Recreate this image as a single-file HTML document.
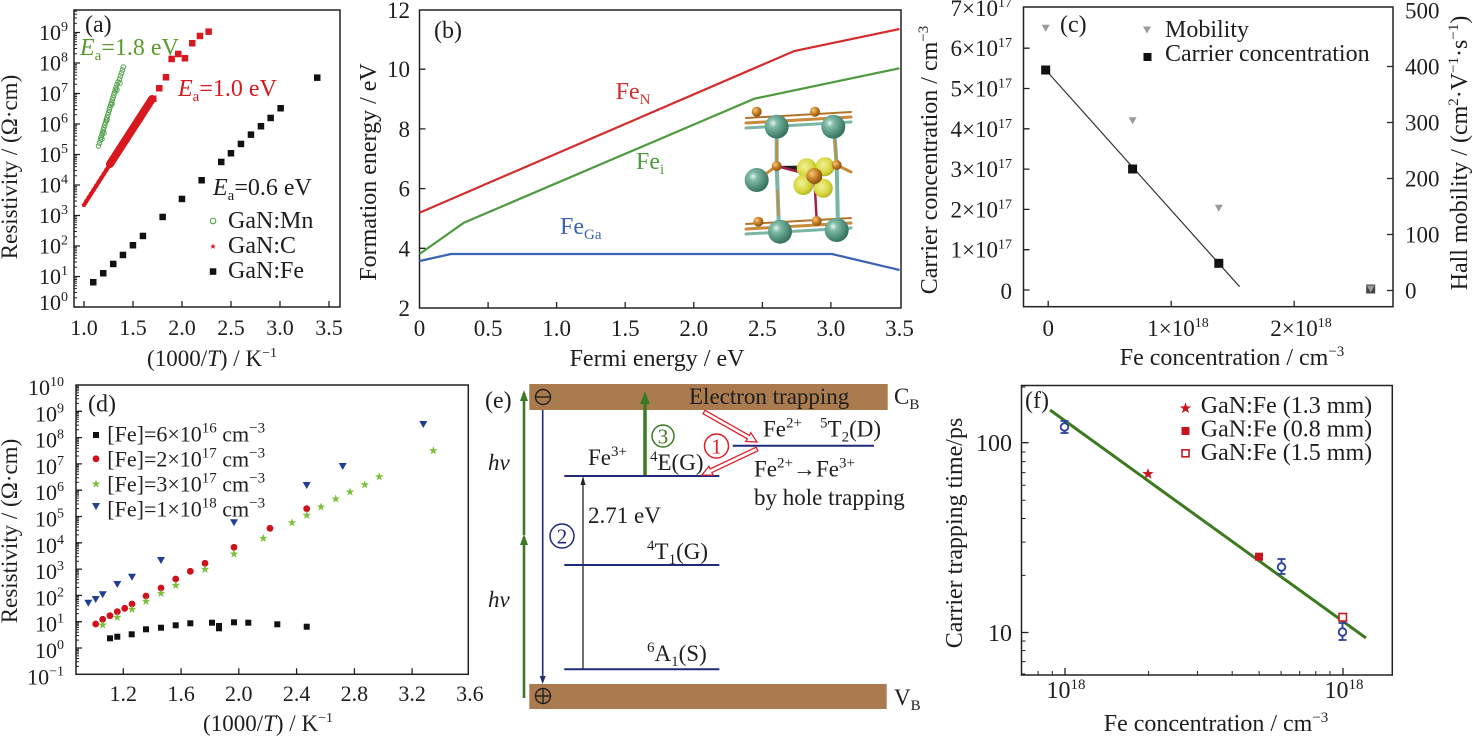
<!DOCTYPE html>
<html><head><meta charset="utf-8"><style>
html,body{margin:0;padding:0;background:#fff}
svg{display:block;font-family:"Liberation Serif",serif}
svg text, svg tspan{font-family:"Liberation Serif",serif}
</style></head><body>
<svg width="1473" height="738" viewBox="0 0 1473 738" style="font-family:'Liberation Serif',serif" fill="#1e1e1e">
<defs>
<path id="s3" d="M0,-3L.71,-.97L2.85,-.93L1.14,.37L1.76,2.43L0,1.2L-1.76,2.43L-1.14,.37L-2.85,-.93L-.71,-.97Z"/>
<path id="s45" d="M0,-4.5L1.06,-1.46L4.28,-1.39L1.71,.56L2.65,3.64L0,1.8L-2.65,3.64L-1.71,.56L-4.28,-1.39L-1.06,-1.46Z"/>
<path id="s6" d="M0,-6L1.41,-1.94L5.71,-1.85L2.28,.74L3.53,4.85L0,2.4L-3.53,4.85L-2.28,.74L-5.71,-1.85L-1.41,-1.94Z"/>
<radialGradient id="gt" cx="0.35" cy="0.35" r="0.7"><stop offset="0" stop-color="#e6f4ef"/><stop offset="0.25" stop-color="#7fbba6"/><stop offset="1" stop-color="#2f6e5a"/></radialGradient>
<radialGradient id="go" cx="0.35" cy="0.35" r="0.7"><stop offset="0" stop-color="#f7c77c"/><stop offset="0.5" stop-color="#c98226"/><stop offset="1" stop-color="#7e4a10"/></radialGradient>
<radialGradient id="gy" cx="0.4" cy="0.4" r="0.7"><stop offset="0" stop-color="#f2f29a"/><stop offset="0.6" stop-color="#d6d63c"/><stop offset="1" stop-color="#a8a820"/></radialGradient>
</defs>

<!-- ================= (a) ================= -->
<rect x="74" y="10" width="266" height="297" fill="none" stroke="#222" stroke-width="1.5"/>
<path stroke="#222" stroke-width="1.3" fill="none" d="M74 307h6M74 276.5h6M74 246h6M74 215.5h6M74 185h6M74 154.5h6M74 124h6M74 93.5h6M74 63h6M74 32.5h6M84 307v-6M133 307v-6M182 307v-6M231 307v-6M280 307v-6M329 307v-6"/>
<path stroke="#222" stroke-width="1" fill="none" d="M74 297.8h3M74 292.5h3M74 288.6h3M74 285.7h3M74 283.3h3M74 281.2h3M74 279.5h3M74 277.9h3M74 267.3h3M74 262h3M74 258.1h3M74 255.2h3M74 252.8h3M74 250.7h3M74 249h3M74 247.4h3M74 236.8h3M74 231.5h3M74 227.6h3M74 224.7h3M74 222.3h3M74 220.2h3M74 218.5h3M74 216.9h3M74 206.3h3M74 201h3M74 197.1h3M74 194.2h3M74 191.8h3M74 189.7h3M74 188h3M74 186.4h3M74 175.8h3M74 170.5h3M74 166.6h3M74 163.7h3M74 161.3h3M74 159.2h3M74 157.5h3M74 155.9h3M74 145.3h3M74 140h3M74 136.1h3M74 133.2h3M74 130.8h3M74 128.7h3M74 127h3M74 125.4h3M74 114.8h3M74 109.5h3M74 105.6h3M74 102.7h3M74 100.3h3M74 98.2h3M74 96.5h3M74 94.9h3M74 84.3h3M74 79h3M74 75.1h3M74 72.2h3M74 69.8h3M74 67.7h3M74 66h3M74 64.4h3M74 53.8h3M74 48.5h3M74 44.6h3M74 41.7h3M74 39.3h3M74 37.2h3M74 35.5h3M74 33.9h3M74 23.3h3M74 18h3M74 14.1h3M74 11.2h3"/>
<g font-size="22" text-anchor="end">
<text x="68" y="40">10<tspan dy="-9" font-size="14">9</tspan></text>
<text x="68" y="70.5">10<tspan dy="-9" font-size="14">8</tspan></text>
<text x="68" y="101">10<tspan dy="-9" font-size="14">7</tspan></text>
<text x="68" y="131.5">10<tspan dy="-9" font-size="14">6</tspan></text>
<text x="68" y="162">10<tspan dy="-9" font-size="14">5</tspan></text>
<text x="68" y="192.5">10<tspan dy="-9" font-size="14">4</tspan></text>
<text x="68" y="223">10<tspan dy="-9" font-size="14">3</tspan></text>
<text x="68" y="253.5">10<tspan dy="-9" font-size="14">2</tspan></text>
<text x="68" y="284">10<tspan dy="-9" font-size="14">1</tspan></text>
<text x="68" y="310">10<tspan dy="-9" font-size="14">0</tspan></text>
</g>
<g font-size="22" text-anchor="middle">
<text x="84" y="335">1.0</text><text x="133" y="335">1.5</text><text x="182" y="335">2.0</text><text x="231" y="335">2.5</text><text x="280" y="335">3.0</text><text x="329" y="335">3.5</text>
</g>
<text x="212" y="366" font-size="23" text-anchor="middle">(1000/<tspan font-style="italic">T</tspan>) / K<tspan dy="-9" font-size="14">−1</tspan></text>
<text transform="translate(17,167) rotate(-90)" font-size="23" text-anchor="middle">Resistivity / (Ω·cm)</text>
<!-- GaN:Fe -->
<g fill="#111">
<rect x="90" y="279" width="6.5" height="6.5"/><rect x="100" y="270" width="6.5" height="6.5"/><rect x="110" y="260.7" width="6.5" height="6.5"/><rect x="119.7" y="251.7" width="6.5" height="6.5"/><rect x="129.7" y="242" width="6.5" height="6.5"/><rect x="139.7" y="232.7" width="6.5" height="6.5"/><rect x="159.4" y="213.7" width="6.5" height="6.5"/><rect x="178.7" y="195.7" width="6.5" height="6.5"/><rect x="198.4" y="177" width="6.5" height="6.5"/><rect x="218" y="158.7" width="6.5" height="6.5"/><rect x="227.7" y="150" width="6.5" height="6.5"/><rect x="237.7" y="140.7" width="6.5" height="6.5"/><rect x="247.7" y="131.4" width="6.5" height="6.5"/><rect x="257.7" y="123" width="6.5" height="6.5"/><rect x="267.4" y="114.7" width="6.5" height="6.5"/><rect x="277.4" y="105" width="6.5" height="6.5"/><rect x="314" y="74.4" width="6.5" height="6.5"/>
</g>
<!-- GaN:C -->
<g fill="#d7191f">
<path d="M84 205L111.5 162" stroke="#d7191f" stroke-width="4" stroke-linecap="round"/>
<path d="M110 164L152 99" stroke="#d7191f" stroke-width="8" stroke-linecap="round"/>
<use href="#s3" x="84" y="205"/><use href="#s3" x="86.5" y="200.7"/><use href="#s3" x="89" y="196.8"/><use href="#s3" x="91.5" y="193"/><use href="#s3" x="94" y="189.1"/><use href="#s3" x="96.5" y="185.2"/><use href="#s3" x="99" y="181.3"/><use href="#s3" x="101.5" y="177.4"/><use href="#s3" x="104" y="173.5"/><use href="#s3" x="106.5" y="169.6"/><use href="#s3" x="109" y="165.7"/><use href="#s3" x="116" y="158"/><use href="#s3" x="122" y="147"/><use href="#s3" x="128" y="140"/><use href="#s3" x="135" y="127"/><use href="#s3" x="141" y="120"/><use href="#s3" x="148" y="106"/><use href="#s3" x="153" y="100"/>
<rect x="150" y="95.5" width="6.5" height="6.5"/>
<rect x="156" y="85" width="6.5" height="6.5"/><rect x="162.7" y="74" width="6.5" height="6.5"/><rect x="168.4" y="55.7" width="6.5" height="6.5"/><rect x="175" y="50.7" width="6.5" height="6.5"/><rect x="181.7" y="55" width="6.5" height="6.5"/><rect x="189" y="40" width="6.5" height="6.5"/><rect x="196.7" y="32.7" width="6.5" height="6.5"/><rect x="205.4" y="28.4" width="6.5" height="6.5"/>
</g>
<!-- GaN:Mn -->
<g fill="none" stroke="#4c9e45" stroke-width="0.9">
<circle cx="98.5" cy="146" r="2.3"/><circle cx="99.5" cy="143" r="2.3"/><circle cx="100.3" cy="140" r="2.3"/><circle cx="101" cy="137.5" r="2.3"/><circle cx="101.8" cy="135" r="2.3"/><circle cx="102.5" cy="132.5" r="2.3"/><circle cx="103.3" cy="130" r="2.3"/><circle cx="104" cy="127.5" r="2.3"/><circle cx="104.8" cy="125" r="2.3"/><circle cx="105.5" cy="122.5" r="2.3"/><circle cx="106.3" cy="120" r="2.3"/><circle cx="107" cy="117.5" r="2.3"/><circle cx="107.8" cy="115" r="2.3"/><circle cx="108.5" cy="112.5" r="2.3"/><circle cx="109.3" cy="110" r="2.3"/><circle cx="110" cy="107.5" r="2.3"/><circle cx="110.8" cy="105" r="2.3"/><circle cx="111.5" cy="102.5" r="2.3"/><circle cx="112.3" cy="100" r="2.3"/><circle cx="113" cy="97.5" r="2.3"/><circle cx="113.8" cy="95" r="2.3"/><circle cx="114.5" cy="92.5" r="2.3"/><circle cx="115.3" cy="90" r="2.3"/><circle cx="116" cy="87.5" r="2.3"/><circle cx="117" cy="84.5" r="2.3"/><circle cx="118" cy="82" r="2.3"/><circle cx="119.5" cy="79" r="2.3"/><circle cx="120.5" cy="76" r="2.3"/><circle cx="121.5" cy="73" r="2.3"/><circle cx="122.5" cy="70" r="2.3"/><circle cx="123.3" cy="67" r="2.3"/><circle cx="120" cy="83" r="2.3"/><circle cx="117" cy="90" r="2.3"/><circle cx="112" cy="104" r="2.3"/><circle cx="107" cy="120" r="2.3"/><circle cx="104" cy="133" r="2.3"/><circle cx="102" cy="139" r="2.3"/>
</g>
<text x="85" y="32" font-size="24">(a)</text>
<text x="80" y="55" font-size="24" fill="#5a9a2a"><tspan font-style="italic">E</tspan><tspan dy="5" font-size="15">a</tspan><tspan dy="-5">=1.8 eV</tspan></text>
<text x="178" y="96" font-size="24" fill="#d7191f"><tspan font-style="italic">E</tspan><tspan dy="5" font-size="15">a</tspan><tspan dy="-5">=1.0 eV</tspan></text>
<text x="213" y="195" font-size="24"><tspan font-style="italic">E</tspan><tspan dy="5" font-size="15">a</tspan><tspan dy="-5">=0.6 eV</tspan></text>
<circle cx="213" cy="221" r="2.8" fill="none" stroke="#4c9e45" stroke-width="1"/>
<use href="#s3" x="213" y="246.5" fill="#d7191f"/>
<rect x="209.8" y="268.3" width="6.5" height="6.5" fill="#111"/>
<g font-size="24"><text x="228" y="228">GaN:Mn</text><text x="228" y="253">GaN:C</text><text x="228" y="278">GaN:Fe</text></g>

<!-- ================= (b) ================= -->
<rect x="419.5" y="10" width="481.5" height="298" fill="none" stroke="#222" stroke-width="1.5"/>
<path stroke="#222" stroke-width="1.3" fill="none" d="M419.5 248.3h6M419.5 188.6h6M419.5 128.9h6M419.5 69.2h6M488.1 308v-6M556.6 308v-6M625.2 308v-6M693.8 308v-6M762.4 308v-6M830.9 308v-6"/>
<g font-size="23" text-anchor="end">
<text x="410" y="316">2</text><text x="410" y="256.3">4</text><text x="410" y="196.6">6</text><text x="410" y="136.9">8</text><text x="410" y="77.2">10</text><text x="410" y="18">12</text>
</g>
<g font-size="23" text-anchor="middle">
<text x="419.5" y="336">0</text><text x="488.1" y="336">0.5</text><text x="556.6" y="336">1.0</text><text x="625.2" y="336">1.5</text><text x="693.8" y="336">2.0</text><text x="762.4" y="336">2.5</text><text x="830.9" y="336">3.0</text><text x="899.5" y="336">3.5</text>
</g>
<text x="657" y="366" font-size="24" text-anchor="middle">Fermi energy / eV</text>
<text transform="translate(376,172) rotate(-90)" font-size="24" text-anchor="middle">Formation energy / eV</text>
<path d="M419.5 212.7L794.3 51L899.5 29" fill="none" stroke="#d42d2d" stroke-width="2.2"/>
<path d="M419.5 254L463.9 222.7L754.4 98.7L899.5 68.3" fill="none" stroke="#4e9a3e" stroke-width="2.2"/>
<path d="M419.5 261L451 254L832 254L899.5 270" fill="none" stroke="#3b63b2" stroke-width="2.2"/>
<text x="434" y="38" font-size="24">(b)</text>
<text x="615.6" y="99" font-size="24" fill="#d42d2d">Fe<tspan dy="5" font-size="15">N</tspan></text>
<text x="636" y="169" font-size="24" fill="#4e9a3e">Fe<tspan dy="5" font-size="15">i</tspan></text>
<text x="560" y="234" font-size="24" fill="#3b63b2">Fe<tspan dy="5" font-size="15">Ga</tspan></text>
<!-- inset crystal -->
<g stroke-linecap="round">
<path d="M746 123L851 117M746 229L851 223" stroke="#c98a3a" stroke-width="3"/>
<path d="M746 128L851 122M746 234L851 228" stroke="#7bb5a5" stroke-width="3"/>
<path d="M746 118L851 112M746 224L851 218" stroke="#b27428" stroke-width="2"/>
<path d="M776.7 128V166M834 128L836.7 165M776.7 166L779 230M836.7 165L838 228" stroke="#7bb5a5" stroke-width="4"/>
<path d="M776.7 140V160M835 140L836 160M777.5 190L778.5 215" stroke="#c98a3a" stroke-width="2"/>
<path d="M757 180L776.7 166M836.7 165L851 172" stroke="#c98a3a" stroke-width="3"/>
<path d="M776.7 166L814.3 176L836.7 165M814.3 176L816.7 221" stroke="#a0204a" stroke-width="2.5"/>
<circle cx="776.7" cy="126.7" r="12" fill="url(#gt)"/>
<circle cx="833.3" cy="126.7" r="12" fill="url(#gt)"/>
<circle cx="756.7" cy="180" r="12" fill="url(#gt)"/>
<circle cx="780" cy="231.7" r="12" fill="url(#gt)"/>
<circle cx="836.7" cy="230" r="12" fill="url(#gt)"/>
<ellipse cx="806.7" cy="168.3" rx="10" ry="10" fill="url(#gy)"/>
<ellipse cx="825" cy="166.7" rx="9.5" ry="9.5" fill="url(#gy)"/>
<ellipse cx="803.3" cy="185" rx="10" ry="10" fill="url(#gy)"/>
<ellipse cx="823.3" cy="188.3" rx="9.5" ry="9.5" fill="url(#gy)"/>
<circle cx="814.3" cy="176" r="8" fill="url(#go)"/>
<circle cx="756.7" cy="111.7" r="5" fill="url(#go)"/>
<circle cx="815" cy="111.7" r="5" fill="url(#go)"/>
<circle cx="776.7" cy="166" r="5" fill="url(#go)"/>
<circle cx="836.7" cy="165" r="5" fill="url(#go)"/>
<circle cx="758.3" cy="221.7" r="5" fill="url(#go)"/>
<circle cx="816.7" cy="221" r="5" fill="url(#go)"/>
</g>

<!-- ================= (c) ================= -->
<rect x="1023.5" y="7" width="369.5" height="299.7" fill="none" stroke="#222" stroke-width="1.5"/>
<path stroke="#222" stroke-width="1.3" fill="none" d="M1023.5 290h6M1023.5 249.7h6M1023.5 209.4h6M1023.5 169.1h6M1023.5 128.8h6M1023.5 88.5h6M1023.5 48.2h6M1393 290.5h-6M1393 234.5h-6M1393 178.5h-6M1393 122.5h-6M1393 66.5h-6M1048.2 306.7v-6M1171.2 306.7v-6M1294.2 306.7v-6"/>
<g font-size="23" text-anchor="end">
<text x="1012" y="16">7×10<tspan dy="-9" font-size="14">17</tspan></text>
<text x="1012" y="56.2">6×10<tspan dy="-9" font-size="14">17</tspan></text>
<text x="1012" y="96.5">5×10<tspan dy="-9" font-size="14">17</tspan></text>
<text x="1012" y="136.8">4×10<tspan dy="-9" font-size="14">17</tspan></text>
<text x="1012" y="177.1">3×10<tspan dy="-9" font-size="14">17</tspan></text>
<text x="1012" y="217.4">2×10<tspan dy="-9" font-size="14">17</tspan></text>
<text x="1012" y="257.7">1×10<tspan dy="-9" font-size="14">17</tspan></text>
<text x="1012" y="299">0</text>
</g>
<g font-size="23">
<text x="1405" y="18.5">500</text><text x="1405" y="74.5">400</text><text x="1405" y="130.5">300</text><text x="1405" y="186.5">200</text><text x="1405" y="242.5">100</text><text x="1405" y="298.5">0</text>
</g>
<g font-size="23" text-anchor="middle">
<text x="1048.2" y="336">0</text>
<text x="1178" y="336">1×10<tspan dy="-9" font-size="14">18</tspan></text>
<text x="1301" y="336">2×10<tspan dy="-9" font-size="14">18</tspan></text>
</g>
<text x="1232" y="365" font-size="24" text-anchor="middle">Fe concentration / cm<tspan dy="-9" font-size="15">−3</tspan></text>
<text transform="translate(937,160) rotate(-90)" font-size="24" text-anchor="middle">Carrier concentration / cm<tspan dy="-9" font-size="15">−3</tspan></text>
<text transform="translate(1467,153) rotate(-90)" font-size="24" text-anchor="middle">Hall mobility / (cm<tspan dy="-9" font-size="15">2</tspan><tspan dy="9">·V</tspan><tspan dy="-9" font-size="15">−1</tspan><tspan dy="9">·s</tspan><tspan dy="-9" font-size="15">−1</tspan><tspan dy="9">)</tspan></text>
<path d="M1045.7 70L1239.6 286.7" stroke="#333" stroke-width="1.2"/>
<g fill="#111">
<rect x="1041.2" y="65.5" width="9" height="9"/><rect x="1128.1" y="164.5" width="9" height="9"/><rect x="1214.3" y="258.8" width="9" height="9"/><rect x="1366.2" y="284.5" width="9" height="9" fill="#444"/>
</g>
<g fill="#9a9a9a">
<path d="M1041.7 24.8h8l-4 7z"/><path d="M1128.6 117.2h8l-4 7z"/><path d="M1214.8 204.8h8l-4 7z"/><path d="M1366.7 285.5h8l-4 7z"/>
<path d="M1143 26.5h8l-4 7z"/>
</g>
<rect x="1143.5" y="53" width="8" height="8" fill="#111"/>
<text x="1060" y="32" font-size="24">(c)</text>
<g font-size="24"><text x="1165" y="37">Mobility</text><text x="1165" y="61">Carrier concentration</text></g>

<!-- ================= (d) ================= -->
<rect x="76" y="385" width="392.3" height="289.3" fill="none" stroke="#222" stroke-width="1.5"/>
<path stroke="#222" stroke-width="1.3" fill="none" d="M76 648h6M76 621.7h6M76 595.4h6M76 569.1h6M76 542.8h6M76 516.5h6M76 490.2h6M76 463.9h6M76 437.6h6M76 411.3h6M123.3 674.3v-6M181.1 674.3v-6M238.8 674.3v-6M296.6 674.3v-6M354.4 674.3v-6M412.1 674.3v-6"/>
<path stroke="#222" stroke-width="1" fill="none" d="M76 666.4h3M76 661.8h3M76 658.5h3M76 655.9h3M76 653.8h3M76 652.1h3M76 650.6h3M76 649.2h3M76 640.1h3M76 635.5h3M76 632.2h3M76 629.6h3M76 627.5h3M76 625.8h3M76 624.3h3M76 622.9h3M76 613.8h3M76 609.2h3M76 605.9h3M76 603.3h3M76 601.2h3M76 599.5h3M76 598h3M76 596.6h3M76 587.5h3M76 582.9h3M76 579.6h3M76 577h3M76 574.9h3M76 573.2h3M76 571.7h3M76 570.3h3M76 561.2h3M76 556.6h3M76 553.3h3M76 550.7h3M76 548.6h3M76 546.9h3M76 545.4h3M76 544h3M76 534.9h3M76 530.3h3M76 527h3M76 524.4h3M76 522.3h3M76 520.6h3M76 519.1h3M76 517.7h3M76 508.6h3M76 504h3M76 500.7h3M76 498.1h3M76 496h3M76 494.3h3M76 492.8h3M76 491.4h3M76 482.3h3M76 477.7h3M76 474.4h3M76 471.8h3M76 469.7h3M76 468h3M76 466.5h3M76 465.1h3M76 456h3M76 451.4h3M76 448.1h3M76 445.5h3M76 443.4h3M76 441.7h3M76 440.2h3M76 438.8h3M76 429.7h3M76 425.1h3M76 421.8h3M76 419.2h3M76 417.1h3M76 415.4h3M76 413.9h3M76 412.5h3M76 403.4h3M76 398.8h3M76 395.5h3M76 392.9h3M76 390.8h3M76 389.1h3M76 387.6h3M76 386.2h3"/>
<g font-size="22" text-anchor="end">
<text x="64" y="395">10<tspan dy="-9" font-size="14">10</tspan></text>
<text x="64" y="421.3">10<tspan dy="-9" font-size="14">9</tspan></text>
<text x="64" y="447.6">10<tspan dy="-9" font-size="14">8</tspan></text>
<text x="64" y="473.9">10<tspan dy="-9" font-size="14">7</tspan></text>
<text x="64" y="500.2">10<tspan dy="-9" font-size="14">6</tspan></text>
<text x="64" y="526.5">10<tspan dy="-9" font-size="14">5</tspan></text>
<text x="64" y="552.8">10<tspan dy="-9" font-size="14">4</tspan></text>
<text x="64" y="579.1">10<tspan dy="-9" font-size="14">3</tspan></text>
<text x="64" y="605.4">10<tspan dy="-9" font-size="14">2</tspan></text>
<text x="64" y="631.7">10<tspan dy="-9" font-size="14">1</tspan></text>
<text x="64" y="658">10<tspan dy="-9" font-size="14">0</tspan></text>
<text x="64" y="684.3">10<tspan dy="-9" font-size="14">−1</tspan></text>
</g>
<g font-size="22" text-anchor="middle">
<text x="123.3" y="701">1.2</text><text x="181.1" y="701">1.6</text><text x="238.8" y="701">2.0</text><text x="296.6" y="701">2.4</text><text x="354.4" y="701">2.8</text><text x="412.1" y="701">3.2</text><text x="469.9" y="701">3.6</text>
</g>
<text x="268" y="731" font-size="23" text-anchor="middle">(1000/<tspan font-style="italic">T</tspan>) / K<tspan dy="-9" font-size="14">−1</tspan></text>
<text transform="translate(17,531) rotate(-90)" font-size="23" text-anchor="middle">Resistivity / (Ω·cm)</text>
<g fill="#111">
<rect x="107" y="635.3" width="6" height="6"/><rect x="114.3" y="633.7" width="6" height="6"/><rect x="128.7" y="631.3" width="6" height="6"/><rect x="143" y="626.3" width="6" height="6"/><rect x="158" y="624.7" width="6" height="6"/><rect x="172.7" y="622.3" width="6" height="6"/><rect x="187.3" y="620.3" width="6" height="6"/><rect x="209" y="619.7" width="6" height="6"/><rect x="216" y="623" width="6" height="6"/><rect x="216" y="625.3" width="6" height="6"/><rect x="231" y="619.3" width="6" height="6"/><rect x="245.3" y="619.7" width="6" height="6"/><rect x="274.3" y="621.3" width="6" height="6"/><rect x="303.7" y="623.7" width="6" height="6"/>
</g>
<g fill="#d0101a">
<circle cx="95.7" cy="624" r="3.4"/><circle cx="102.7" cy="619.3" r="3.4"/><circle cx="110" cy="615.7" r="3.4"/><circle cx="117.3" cy="611.7" r="3.4"/><circle cx="124.7" cy="608.3" r="3.4"/><circle cx="132" cy="604" r="3.4"/><circle cx="146" cy="596" r="3.4"/><circle cx="161" cy="588" r="3.4"/><circle cx="175.7" cy="579" r="3.4"/><circle cx="190.3" cy="571.3" r="3.4"/><circle cx="205" cy="563.3" r="3.4"/><circle cx="234" cy="547.3" r="3.4"/><circle cx="270" cy="528.3" r="3.4"/><circle cx="306.7" cy="508.7" r="3.4"/>
</g>
<g fill="#7cbf3c">
<use href="#s45" x="102.7" y="625"/><use href="#s45" x="117.3" y="617.3"/><use href="#s45" x="132" y="609.3"/><use href="#s45" x="146" y="601.3"/><use href="#s45" x="161" y="593.3"/><use href="#s45" x="175.7" y="585.3"/><use href="#s45" x="205" y="569.3"/><use href="#s45" x="234" y="554"/><use href="#s45" x="263.3" y="538.3"/><use href="#s45" x="292" y="522.7"/><use href="#s45" x="306.7" y="515.3"/><use href="#s45" x="321" y="507"/><use href="#s45" x="335.7" y="499"/><use href="#s45" x="350" y="492"/><use href="#s45" x="364.7" y="484.7"/><use href="#s45" x="379.3" y="476.7"/><use href="#s45" x="433.3" y="450.7"/>
</g>
<g fill="#1f3f95">
<path d="M84.3 599.7h8l-4 7z"/><path d="M91.7 596h8l-4 7z"/><path d="M98.7 591.3h8l-4 7z"/><path d="M113.3 581h8l-4 7z"/><path d="M128 573.7h8l-4 7z"/><path d="M157 557h8l-4 7z"/><path d="M230 519.3h8l-4 7z"/><path d="M302.7 482h8l-4 7z"/><path d="M338.7 463h8l-4 7z"/><path d="M419.3 421h8l-4 7z"/>
</g>
<text x="88" y="411.7" font-size="24">(d)</text>
<rect x="93" y="432" width="6" height="6" fill="#111"/>
<circle cx="96" cy="458.8" r="3.4" fill="#d0101a"/>
<use href="#s45" x="96" y="484" fill="#7cbf3c"/>
<path d="M92 503h8l-4 7z" fill="#1f3f95"/>
<g font-size="22">
<text x="107.3" y="441.5">[Fe]=6×10<tspan dy="-9" font-size="15">16</tspan><tspan dy="9"> cm</tspan><tspan dy="-9" font-size="15">−3</tspan></text>
<text x="107.3" y="466.5">[Fe]=2×10<tspan dy="-9" font-size="15">17</tspan><tspan dy="9"> cm</tspan><tspan dy="-9" font-size="15">−3</tspan></text>
<text x="107.3" y="491.5">[Fe]=3×10<tspan dy="-9" font-size="15">17</tspan><tspan dy="9"> cm</tspan><tspan dy="-9" font-size="15">−3</tspan></text>
<text x="107.3" y="516.5">[Fe]=1×10<tspan dy="-9" font-size="15">18</tspan><tspan dy="9"> cm</tspan><tspan dy="-9" font-size="15">−3</tspan></text>
</g>

<!-- ================= (e) ================= -->
<rect x="529.3" y="384" width="358.4" height="26" fill="#a97b4e"/>
<rect x="529.3" y="684" width="357.4" height="25" fill="#a97b4e"/>
<text x="485" y="408" font-size="24">(e)</text>
<g fill="none" stroke="#222" stroke-width="1.4">
<circle cx="543" cy="397" r="7.5"/><path d="M536 397h14"/>
<circle cx="543" cy="696" r="7.5"/><path d="M536 696h14M543 689v14"/>
</g>
<path d="M542.7 410V678" stroke="#1f2a78" stroke-width="1.6"/>
<path d="M539.7 676L542.7 684L545.7 676Z" fill="#1f2a78"/>
<path d="M524 698V542M524 535V398" stroke="#3d7a25" stroke-width="2.6"/>
<path d="M520 545L524 534L528 545Z M520 401L524 390L528 401Z" fill="#3d7a25"/>
<path d="M645 476V402" stroke="#3d7a25" stroke-width="3.5"/>
<path d="M640 404L645 391L650 404Z" fill="#3d7a25"/>
<path d="M583 669V484" stroke="#222" stroke-width="1.3"/>
<path d="M580.5 485L583 476L585.5 485Z" fill="#222"/>
<path d="M564.3 476H719.3M564.3 565H719.3M564.3 669.3H719.3M732.7 445.7H874" stroke="#1f2a78" stroke-width="2"/>
<polygon points="703,413.7 747.3,438.8 745.8,441.4 757,442 750.8,432.7 749.3,435.4 705,410.3" fill="#fff" stroke="#e0202a" stroke-width="1.3"/>
<polygon points="756.1,447.2 710.2,468.9 708.9,466.2 702,475 713.2,475.2 711.9,472.5 757.9,450.8" fill="#fff" stroke="#e0202a" stroke-width="1.3"/>
<circle cx="663" cy="436" r="11" fill="none" stroke="#3d7a25" stroke-width="1.5"/>
<text x="663" y="443.5" font-size="21" text-anchor="middle" fill="#3d7a25">3</text>
<circle cx="716.5" cy="446" r="12" fill="none" stroke="#e0202a" stroke-width="1.5"/>
<text x="716.5" y="453.5" font-size="21" text-anchor="middle" fill="#e0202a">1</text>
<circle cx="562" cy="536" r="12" fill="none" stroke="#1f2a78" stroke-width="1.5"/>
<text x="562" y="543.5" font-size="21" text-anchor="middle" fill="#1f2a78">2</text>
<g font-size="23">
<text x="689" y="404">Electron trapping</text>
<text x="894" y="404">C<tspan dy="5" font-size="15">B</tspan></text>
<text x="894" y="705">V<tspan dy="5" font-size="15">B</tspan></text>
<text x="588" y="465">Fe<tspan dy="-9" font-size="15">3+</tspan></text>
<text x="650" y="470"><tspan dy="-9" font-size="15">4</tspan><tspan dy="9">E(G)</tspan></text>
<text x="588" y="523">2.71 eV</text>
<text x="647" y="559"><tspan dy="-9" font-size="15">4</tspan><tspan dy="9">T</tspan><tspan dy="5" font-size="15">1</tspan><tspan dy="-5">(G)</tspan></text>
<text x="647" y="661"><tspan dy="-9" font-size="15">6</tspan><tspan dy="9">A</tspan><tspan dy="5" font-size="15">1</tspan><tspan dy="-5">(S)</tspan></text>
<text x="763" y="436.7">Fe<tspan dy="-9" font-size="15">2+</tspan></text>
<text x="820" y="436.7"><tspan dy="-9" font-size="15">5</tspan><tspan dy="9">T</tspan><tspan dy="5" font-size="15">2</tspan><tspan dy="-5">(D)</tspan></text>
<text x="754" y="476.7">Fe<tspan dy="-9" font-size="15">2+</tspan><tspan dy="9">→Fe</tspan><tspan dy="-9" font-size="15">3+</tspan></text>
<text x="754" y="505">by hole trapping</text>
<text x="488" y="470" font-style="italic">hν</text>
<text x="488" y="607" font-style="italic">hν</text>
</g>

<!-- ================= (f) ================= -->
<rect x="1021.5" y="385.5" width="370.8" height="289.5" fill="none" stroke="#222" stroke-width="1.5"/>
<path stroke="#222" stroke-width="1.3" fill="none" d="M1065 675v-7M1343 675v-7M1021.5 442.7h7M1021.5 632.5h7"/>
<path stroke="#222" stroke-width="1" fill="none" d="M1038.1 675v-4M1052.3 675v-4M1148.6 675v-4M1197.5 675v-4M1232.2 675v-4M1259.1 675v-4M1281.1 675v-4M1299.7 675v-4M1315.8 675v-4M1330 675v-4M1021.5 575.4h4M1021.5 542.1h4M1021.5 518.5h4M1021.5 500.2h4M1021.5 485.2h4M1021.5 472.6h4M1021.5 461.6h4M1021.5 452h4M1021.5 387h4M1021.5 674h4M1021.5 661.6h4M1021.5 650.6h4M1021.5 641h4"/>
<g font-size="24" text-anchor="end"><text x="1012" y="451">100</text><text x="1012" y="641">10</text></g>
<g font-size="24" text-anchor="middle">
<text x="1066" y="698">10<tspan dy="-9" font-size="15">18</tspan></text>
<text x="1344" y="698">10<tspan dy="-9" font-size="15">18</tspan></text>
</g>
<text x="1216" y="731" font-size="24" text-anchor="middle">Fe concentration / cm<tspan dy="-9" font-size="15">−3</tspan></text>
<text transform="translate(962,533) rotate(-90)" font-size="24" text-anchor="middle">Carrier trapping time/ps</text>
<path d="M1050 410L1366 638" stroke="#3d7a1f" stroke-width="3"/>
<g stroke="#2a3f9a" stroke-width="1.8" fill="none">
<path d="M1064.5 421v12M1060.5 421h8M1060.5 433h8"/><circle cx="1064.5" cy="427" r="3.8" fill="#fff"/>
<path d="M1281.5 559v15M1277.5 559h8M1277.5 574h8"/><circle cx="1281.5" cy="567" r="3.8" fill="#fff"/>
<path d="M1342.5 623v17M1338.5 623h8M1338.5 640h8"/><circle cx="1342.5" cy="632" r="3.8" fill="#fff"/>
</g>
<use href="#s6" x="1148" y="474" fill="#c8161e"/>
<rect x="1255" y="552.7" width="8" height="8" fill="#c8161e"/>
<rect x="1339" y="613.5" width="7.5" height="7.5" fill="#fff" stroke="#c8161e" stroke-width="1.6"/>
<text x="1025" y="408" font-size="24">(f)</text>
<use href="#s6" x="1185.5" y="408.3" fill="#c8161e"/>
<rect x="1181.5" y="427" width="8" height="8" fill="#c8161e"/>
<rect x="1182" y="449.8" width="7" height="7" fill="#fff" stroke="#c8161e" stroke-width="1.6"/>
<g font-size="24">
<text x="1200.8" y="413">GaN:Fe (1.3 mm)</text>
<text x="1200.8" y="436.7">GaN:Fe (0.8 mm)</text>
<text x="1200.8" y="460">GaN:Fe (1.5 mm)</text>
</g>
</svg>
</body></html>
